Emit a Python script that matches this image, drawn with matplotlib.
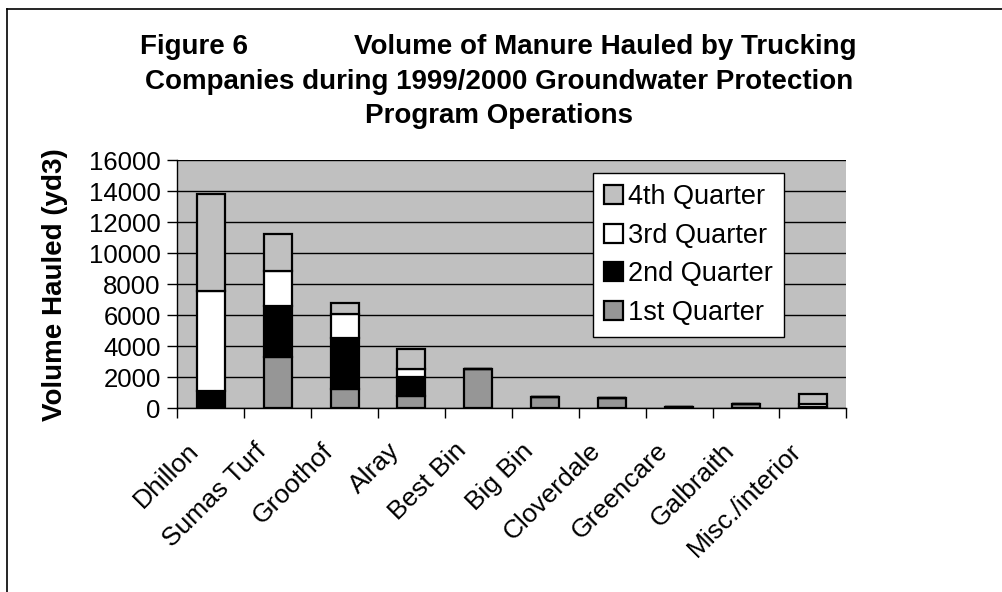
import matplotlib
matplotlib.use("Agg")
import matplotlib.pyplot as plt
import numpy as np
from matplotlib.lines import Line2D
from matplotlib.transforms import ScaledTranslation

plt.rcParams['font.family'] = ['Liberation Sans', 'DejaVu Sans']

categories = ["Dhillon", "Sumas Turf", "Groothof", "Alray", "Best Bin", "Big Bin",
              "Cloverdale", "Greencare", "Galbraith", "Misc./interior"]
q1 = [0, 3300, 1250, 820, 2550, 750, 650, 100, 280, 60]
q2 = [1100, 3300, 3250, 1180, 0, 0, 0, 0, 0, 30]
q3 = [6450, 2250, 1580, 540, 0, 0, 0, 0, 0, 180]
q4 = [6250, 2350, 720, 1300, 0, 0, 0, 0, 0, 680]
series_names = ["1st Quarter", "2nd Quarter", "3rd Quarter", "4th Quarter"]
series_colors = ["#969696", "#000000", "#FFFFFF", "#C0C0C0"]
yticks = [0, 2000, 4000, 6000, 8000, 10000, 12000, 14000, 16000]

W, H = 1003, 592
fig = plt.figure(figsize=(W / 100, H / 100), dpi=100)
fig.patch.set_facecolor("white")

ax = fig.add_axes([177.3 / W, 1 - 408.3 / H, 669 / W, (408.3 - 160) / H])
ax.set_facecolor("#C0C0C0")
x = np.arange(len(categories))
bottom = np.zeros(len(categories))
bars = []
for vals, name, col in zip([q1, q2, q3, q4], series_names, series_colors):
    b = ax.bar(x, vals, width=0.42, bottom=bottom, color=col, edgecolor="black",
               linewidth=1.6, label=name, zorder=3)
    bars.append(b)
    bottom += np.array(vals)

ax.set_xlim(-0.5, len(categories) - 0.5)
ax.set_ylim(0, 16000)
ax.set_yticks(yticks)
ax.set_yticklabels([str(v) for v in yticks], fontsize=18.5)
ax.yaxis.grid(True, color="black", linewidth=1.0, zorder=1)
ax.set_axisbelow(True)
for s in ["top", "right"]:
    ax.spines[s].set_visible(False)
for s in ["left", "bottom"]:
    ax.spines[s].set_linewidth(1.0)
    ax.spines[s].set_zorder(4)

# ticks at category boundaries
ax.set_xticks(np.arange(-0.5, len(categories)), minor=False)
ax.set_xticklabels([])
ax.tick_params(axis="x", which="major", direction="out", length=7, width=1.0)
ax.set_xticks(x, minor=True)
ax.set_xticklabels(categories, minor=True, rotation=45, ha="right", va="top",
                   rotation_mode="anchor", fontsize=19)
ax.tick_params(axis="x", which="minor", length=0, pad=16)
shift = ScaledTranslation(-24 / 100, -8 / 100, fig.dpi_scale_trans)
for lab in ax.get_xticklabels(minor=True):
    lab.set_transform(lab.get_transform() + shift)
ax.tick_params(axis="y", direction="out", length=7, width=1.0, pad=5)

ax.set_ylabel("Volume Hauled (yd3)", fontsize=20, fontweight="bold", labelpad=15)

handles = [bars[3], bars[2], bars[1], bars[0]]
labels = [series_names[3], series_names[2], series_names[1], series_names[0]]
leg = fig.legend(handles, labels, loc="upper left",
                 bbox_to_anchor=(593 / W, 1 - 173 / H), bbox_transform=fig.transFigure,
                 fontsize=19.5, frameon=True, fancybox=False, framealpha=1,
                 edgecolor="black", borderaxespad=0, handlelength=0.7, handleheight=0.7,
                 handletextpad=0.2, labelspacing=0.47, borderpad=0.4)
leg.get_frame().set_linewidth(1.0)

# title
fig.text(140 / W, 1 - 47 / H, "Figure 6", fontsize=20, fontweight="bold",
         ha="left", va="center")
fig.text(857 / W, 1 - 47 / H, "Volume of Manure Hauled by Trucking", fontsize=20,
         fontweight="bold", ha="right", va="center")
fig.text(499 / W, 1 - 82 / H, "Companies during 1999/2000 Groundwater Protection",
         fontsize=20, fontweight="bold", ha="center", va="center")
fig.text(499 / W, 1 - 116 / H, "Program Operations", fontsize=20, fontweight="bold",
         ha="center", va="center")

# outer frame (left and top edges)
fig.add_artist(Line2D([7 / W, 7 / W], [0, 1 - 9 / H], transform=fig.transFigure,
                      color="black", linewidth=1.2))
fig.add_artist(Line2D([7 / W, 1], [1 - 9 / H, 1 - 9 / H], transform=fig.transFigure,
                      color="black", linewidth=1.2))

fig.savefig("out.png", dpi=100)
